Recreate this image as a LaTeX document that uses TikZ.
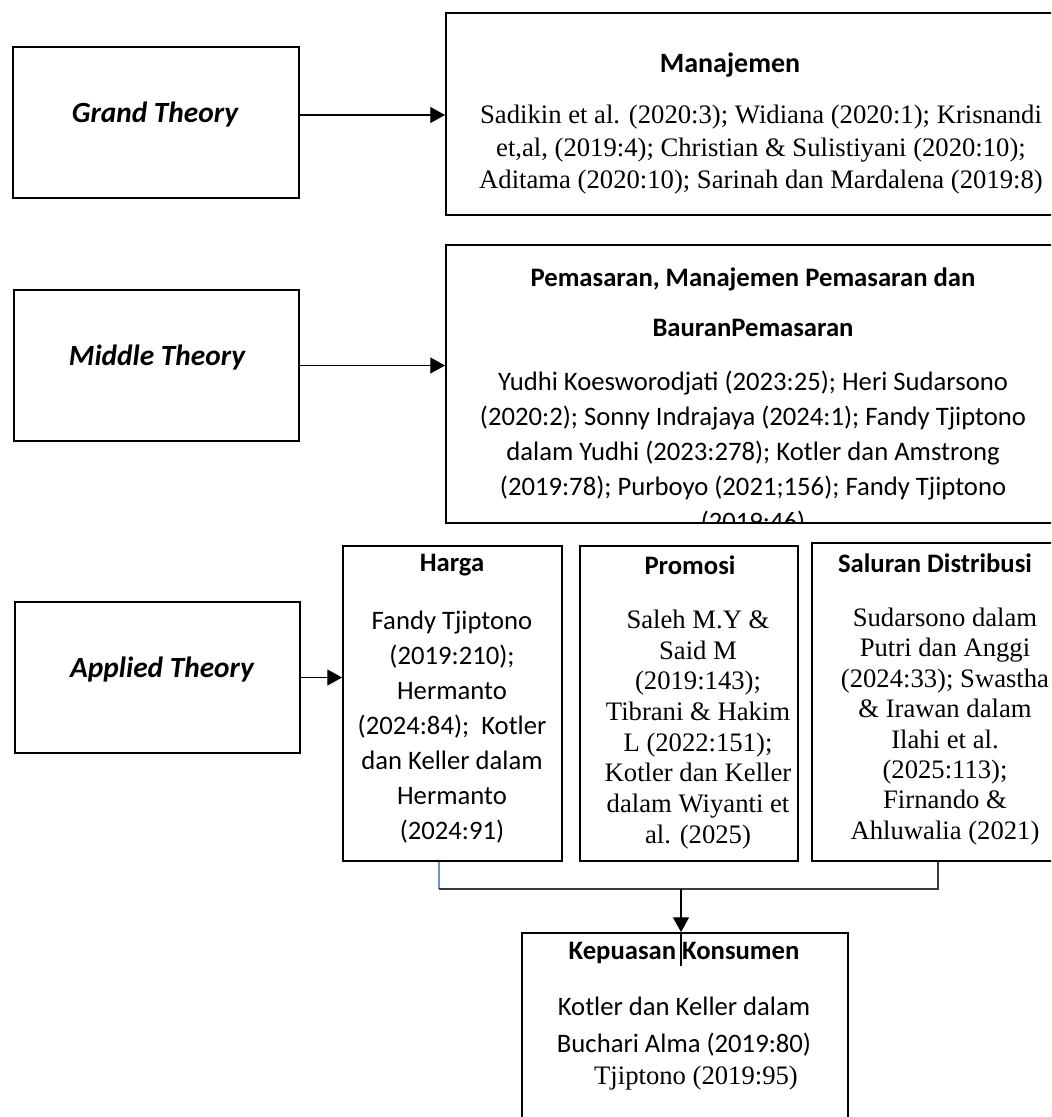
\documentclass[tikz,border=0pt]{standalone}
\usepackage{fontspec}
\setmainfont{Carlito}
\newfontfamily\tnr{Liberation Serif}
\usetikzlibrary{arrows.meta,fit}
\definecolor{linegray}{HTML}{3A3A3A}
\definecolor{lineblue}{HTML}{6F8FD2}
\tikzset{
  box/.style={draw=black, line width=1.5pt, inner sep=0pt},
  theory/.style={font=\fontsize{22}{26}\selectfont\bfseries\itshape, inner sep=0pt},
  ttl/.style={font=\fontsize{20}{24}\selectfont\bfseries, inner sep=0pt},
  cal/.style={font=\fontsize{20}{26.25}\selectfont, align=center, inner sep=0pt},
  tms/.style={font=\tnr\fontsize{20}{23}\selectfont, align=center, inner sep=0pt},
  arr/.style={-{Triangle[length=11pt,width=12pt]}, line width=0.8pt, draw=black},
  conn/.style={line width=0.8pt, draw=linegray}
}
\begin{document}
\begin{tikzpicture}[x=0.75pt,y=-0.75pt]
\useasboundingbox (0,0) rectangle (1051,1117);
\clip (0,0) rectangle (1051,1117);

% left theory boxes
\node[box, fit={(13,47)(299,198)}] (grand) {};
\node[box, fit={(14,290)(299,441)}] (middle) {};
\node[box, fit={(15,602)(300,753)}] (applied) {};
\node[theory] (gt) at (155,115) {Grand Theory};
\node[theory] (mt) at (157,358) {Middle Theory};
\node[theory] (at) at (162,670) {Applied Theory};

% Manajemen
\node[box, fit={(446,13)(1060,215)}] (manaj) {};
\node[ttl, font=\fontsize{21}{24}\selectfont\bfseries] (manajt) at (730,65) {Manajemen};
\node[tms, font=\tnr\fontsize{20}{24.4}\selectfont] (manajb) at (761,150) {Sadikin et al. (2020:3); Widiana (2020:1); Krisnandi\\et,al, (2019:4); Christian \& Sulistiyani (2020:10);\\Aditama (2020:10); Sarinah dan Mardalena (2019:8)};

% Pemasaran
\node[box, fit={(446,245)(1060,523)}] (pemas) {};
\node[ttl, align=center, font=\fontsize{20}{37.5}\selectfont\bfseries] (pemast) at (753,302) {Pemasaran, Manajemen Pemasaran dan\\BauranPemasaran};
\begin{scope}
\clip (447,246) rectangle (1060,521);
\node[cal] (pemasb) at (753,453) {Yudhi Koesworodjati (2023:25); Heri Sudarsono\\(2020:2); Sonny Indrajaya (2024:1); Fandy Tjiptono\\dalam Yudhi (2023:278); Kotler dan Amstrong\\(2019:78); Purboyo (2021;156); Fandy Tjiptono\\(2019:46)};
\end{scope}

% applied boxes
\node[box, fit={(343,546)(562,861)}] (harga) {};
\node[box, fit={(580,546)(798,861)}] (promosi) {};
\node[box, fit={(812,543)(1060,861)}] (saluran) {};
\node[ttl] (hargat) at (452,565) {Harga};
\node[ttl] (promosit) at (690,565) {Promosi};
\node[ttl] (salurant) at (935,563) {Saluran Distribusi};
\node[cal] (hargab) at (452,727) {Fandy Tjiptono\\(2019:210);\\Hermanto\\(2024:84);\ \ Kotler\\dan Keller dalam\\Hermanto\\(2024:91)};
\node[tms] (promosib) at (698,729.5) {Saleh M.Y \&\\Said M\\(2019:143);\\Tibrani \& Hakim\\L (2022:151);\\Kotler dan Keller\\dalam Wiyanti et\\al. (2025)};
\node[tms, font=\tnr\fontsize{20}{22.8}\selectfont] (saluranb) at (945,726.5) {Sudarsono dalam\\Putri dan Anggi\\(2024:33); Swastha\\\& Irawan dalam\\Ilahi et al.\\(2025:113);\\Firnando \&\\Ahluwalia (2021)};

% Kepuasan
\node[box, fit={(522,933)(848,1135)}] (kepuasan) {};
\node[ttl] (kept) at (684,953) {Kepuasan Konsumen};
\node[cal, font=\fontsize{20}{27.75}\selectfont] (kepb) at (684,1026.5) {Kotler dan Keller dalam\\Buchari Alma (2019:80)};
\node[tms] (kepc) at (696,1078) {Tjiptono (2019:95)};

% connectors
\draw[arr] (grand.east |- gt) -- (manaj.west |- gt);
\draw[arr] (middle.east) -- (pemas.west |- middle.east);
\draw[arr] (applied.east) -- (harga.west |- applied.east);

\coordinate (j1) at (439,889);
\coordinate (j2) at (938,889);
\coordinate (jm) at (681,889);
\coordinate (stray) at (681,966);
\draw[line width=0.8pt, draw=lineblue] (harga.south -| j1) -- (j1);
\draw[conn] (j1) -- (j2) -- (saluran.south -| j2);
\draw[arr] (jm) -- (kepuasan.north -| jm);
\draw[line width=0.8pt] (kepuasan.north -| jm) -- (stray);
\end{tikzpicture}
\end{document}
